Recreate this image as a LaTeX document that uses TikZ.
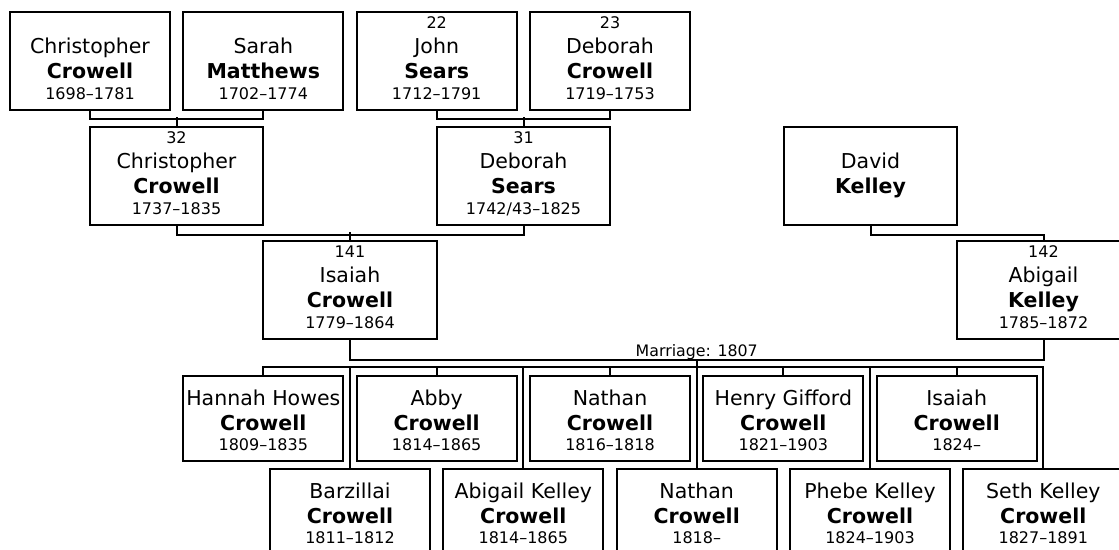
\documentclass[tikz,border=0pt]{standalone}
\usepackage{fontspec}
\setmainfont{DejaVu Sans}
\usetikzlibrary{calc}
\tikzset{
  pbox/.style={draw=black, line width=2pt, rectangle, inner sep=0pt, anchor=north west},
  numtxt/.style={font=\fontsize{16}{16}\selectfont, anchor=base, inner sep=0pt},
  nametxt/.style={font=\fontsize{20.5}{20.5}\selectfont, anchor=base, inner sep=0pt},
  surtxt/.style={font=\fontsize{20.5}{20.5}\selectfont\bfseries, anchor=base, inner sep=0pt},
  datetxt/.style={font=\fontsize{16}{16}\selectfont, anchor=base, inner sep=0pt},
  marrtxt/.style={font=\fontsize{15.8}{15.8}\selectfont, anchor=base, inner sep=0pt},
  conn/.style={draw=black, line width=2pt},
}
\newcommand\ancestor[8]{%
  \node[pbox, minimum width=#4pt, minimum height=98pt] (#1) at (#2,#3) {};
  \if\relax\detokenize{#5}\relax\else
    \node[numtxt] (#1-num) at ($(#1.north)+(0,17)$) {#5};\fi
  \node[nametxt] (#1-first) at ($(#1.north)+(0,42)$) {#6};
  \node[surtxt] (#1-last) at ($(#1.north)+(0,67.5)$) {#7};
  \if\relax\detokenize{#8}\relax\else
    \node[datetxt] (#1-dates) at ($(#1.north)+(0,88)$) {#8};\fi
}
\newcommand\child[5]{%
  \node[pbox, minimum width=160pt, minimum height=85pt] (#1) at (#2,#3) {};
  \node[nametxt] (#1-first) at ($(#1.north)+(0,30)$) {#4};
  \node[surtxt] (#1-last) at ($(#1.north)+(0,55.5)$) {Crowell};
  \node[datetxt] (#1-dates) at ($(#1.north)+(0,75)$) {#5};
}
\begin{document}
\begin{tikzpicture}[x=1pt,y=-1pt]
\useasboundingbox (0,0) rectangle (1119,549);
\clip (0,0) rectangle (1119,549);
\fill[white] (0,0) rectangle (1119,549);

% ancestors
\ancestor{cc1}{9}{11}{160}{}{Christopher}{Crowell}{1698–1781}
\ancestor{sm}{182.3}{11}{160}{}{Sarah}{Matthews}{1702–1774}
\ancestor{js}{355.7}{11}{160}{22}{John}{Sears}{1712–1791}
\ancestor{dc}{529}{11}{160}{23}{Deborah}{Crowell}{1719–1753}
\ancestor{cc2}{89}{126}{173}{32}{Christopher}{Crowell}{1737–1835}
\ancestor{ds}{436}{126}{173}{31}{Deborah}{Sears}{1742/43–1825}
\ancestor{dk}{783}{126}{173}{}{David}{Kelley}{}
\ancestor{ic}{262}{240}{174}{141}{Isaiah}{Crowell}{1779–1864}
\ancestor{ak}{956}{240}{173}{142}{Abigail}{Kelley}{1785–1872}

% children
\child{hh}{182.3}{375}{Hannah Howes}{1809–1835}
\child{bz}{269}{468}{Barzillai}{1811–1812}
\child{ab}{355.7}{375}{Abby}{1814–1865}
\child{akc}{442.3}{468}{Abigail Kelley}{1814–1865}
\child{nca}{529}{375}{Nathan}{1816–1818}
\child{ncb}{615.7}{468}{Nathan}{1818–}
\child{hg}{702.3}{375}{Henry Gifford}{1821–1903}
\child{pk}{789}{468}{Phebe Kelley}{1824–1903}
\child{icb}{875.7}{375}{Isaiah}{1824–}
\child{sk}{962.3}{468}{Seth Kelley}{1827–1891}

% parent brackets
\draw[conn] (cc1.south) -- ++(0,8) -| (sm.south);
\draw[conn] (cc2.north) -- ++(0,-9);
\draw[conn] (js.south) -- ++(0,8) -| (dc.south);
\draw[conn] (ds.north) -- ++(0,-9);
\draw[conn] (cc2.south) -- ++(0,8.5) -| (ds.south);
\draw[conn] (ic.north) -- ++(0,-8.5);
\draw[conn] (dk.south) -- ++(0,8.5) -| (ak.north);

% marriage
\draw[conn] (ic.south) -- ++(0,20) coordinate (mar) -- (mar -| ak.south) -- (ak.south);
\node[marrtxt] (mlabel) at ($(mar)!0.5!(mar -| ak.south) + (0,-4)$) {Marriage: 1807};
\draw[conn] (ncb.north) -- (ncb.north |- mar);

% siblings
\draw[conn] (hh.north) -- ++(0,-8) coordinate (sib) -- (sib -| sk.north) -- (sk.north);
\foreach \n in {ab,nca,hg,icb,bz,akc,pk}{
  \draw[conn] (\n.north) -- (\n.north |- sib);
}
\end{tikzpicture}
\end{document}
